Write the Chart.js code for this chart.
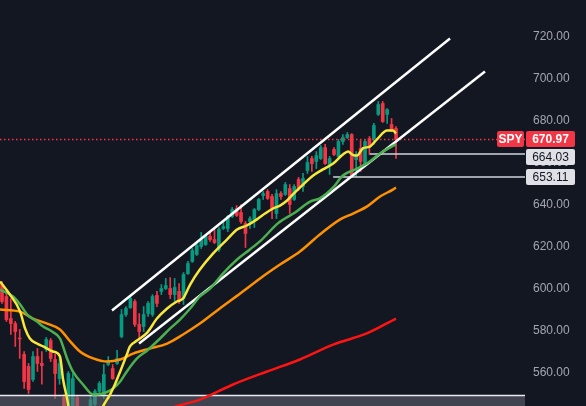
<!DOCTYPE html>
<html>
<head>
<meta charset="utf-8">
<script src="https://cdn.jsdelivr.net/npm/chart.js@4.4.1/dist/chart.umd.min.js"></script>
<style>
  html, body { margin: 0; padding: 0; background: #131722; }
  #wrap { width: 586px; height: 406px; }
</style>
</head>
<body>
<div id="wrap"><canvas id="spyChart" width="586" height="406"></canvas></div>
<script>
// candles, one per bar index
const opens  = [601.9,596.2,585.7,583.3,576.4,568.6,562.9,556.7,567.6,564.3,570.95,575.2,566.2,557.1,548.1,512,532,548,530,512,530,544.8,551.0,549.5,563.8,561.9,564.3,577.1,587.6,590.9,593.8,582.9,581.9,588.1,587.6,596.7,598.6,600.0,600.0,597.1,598.6,595.2,607.1,612.9,616.2,620.0,620.95,624.8,623.3,618.6,628.6,628.6,634.3,638.1,636.2,630.95,631.9,632.9,637.6,644.3,646.2,643.8,635.7,645.2,644.8,647.6,642.4,651.9,648.6,656.2,661.9,660.5,661.9,667.1,659.05,666.2,662.9,670.0,671.9,673.3,661.4,666.7,659.5,671.4,671.4,682.9,688.1,682.9,678.1,676.2];
const highs  = [603.3,598.6,595.2,584.3,580.5,570.0,564.3,570.0,571.4,570.0,576.7,576.2,568.6,567.6,549.5,560.5,559.5,549,538,540,549,551.9,555.7,563.8,567.6,563.8,570.5,590.0,591.4,596.2,594.7,588.1,591.4,593.8,597.1,598.6,601.9,604.8,605.2,604.8,602.4,607.6,612.9,619.05,621.4,626.7,625.7,627.1,628.1,629.05,631.9,634.8,638.6,639.5,640.0,631.9,634.3,638.1,642.9,646.2,647.1,644.8,647.1,646.2,650.5,649.5,649.5,652.9,654.8,662.9,662.9,665.2,668.1,668.6,662.9,667.1,670.95,673.3,674.3,673.8,665.2,670.5,670.95,672.4,678.6,689.05,689.05,685.7,680.95,677.1];
const lows   = [592.9,584.3,578.1,572.4,566.7,552.4,550.0,555.7,560.5,554.4,570.0,565.2,547.6,554.4,505,495,528,520,505,498,526,543.8,550.0,547.6,563.3,556.7,563.8,576.5,586.7,590.5,581.9,575.7,579.5,586.7,586.7,591.4,597.1,599.5,595.2,593.8,592.9,592.4,606.7,612.4,615.7,619.05,620.5,622.4,621.4,617.6,628.1,627.1,633.8,634.3,630.95,619.5,628.6,629.05,637.1,642.4,642.4,633.3,633.3,642.4,644.3,635.7,641.9,646.7,646.2,654.8,655.7,657.1,661.4,659.05,654.3,663.3,662.4,668.6,671.4,652.9,653.3,655.7,659.05,663.8,668.6,682.4,679.05,678.6,674.8,661.9];
const closes = [593.8,585.2,583.3,579.5,576.0,555.7,551.9,567.6,564.3,563.3,575.7,566.7,559.5,564.3,522,559.5,557.1,528,512,535,547,551.0,554.8,559.05,565.7,557.1,566.7,587.6,590.5,595.2,582.9,579.5,587.6,592.9,596.2,592.9,600.0,601.4,597.1,600.5,593.8,606.7,611.9,618.1,620.5,623.3,624.8,623.3,621.9,628.1,629.5,634.3,637.6,634.8,631.9,626.2,633.3,637.6,642.4,645.2,642.9,637.6,645.2,643.8,649.5,640.0,648.6,647.6,652.4,660.0,659.5,663.3,667.1,659.5,661.9,663.8,670.0,671.9,673.3,653.3,663.8,660.5,670.0,667.6,677.6,687.6,679.5,685.2,675.7,670.97];

// moving averages: [bar index, price]
const maYellow = [[-0.45,603.3],[1.8,597.1],[4.1,589.0],[5.2,581.0],[6.3,576.2],[7.9,573.8],[9.3,572.4],[11.5,570.0],[13.1,567.6],[13.8,556.7],[14.7,547.6],[15.8,534.3],[17.6,527.1],[19.9,529.5],[21.5,536.7],[22.8,543.8],[24.4,549.5],[25.5,554.3],[26.7,560.5],[28.2,568.6],[28.9,572.4],[30.5,575.2],[32.8,579.0],[35.0,585.7],[37.3,590.5],[39.5,593.8],[40.9,595.2],[42.5,601.9],[44.7,609.0],[47.7,616.7],[50.8,623.3],[53.1,628.1],[55.3,630.0],[57.6,632.9],[59.4,635.7],[61.2,638.1],[62.8,639.5],[64.4,641.9],[65.7,644.8],[68.0,649.5],[70.3,653.8],[72.5,656.7],[74.8,659.5],[77.0,663.8],[78.2,665.2],[79.1,663.8],[80.2,663.3],[81.5,666.7],[83.1,667.6],[84.7,671.0],[87.0,675.2],[88.3,675.2],[89.0,673.8]];
const maGreen = [[-0.45,599.5],[2.5,596.2],[4.1,592.4],[5.7,587.6],[7.9,584.3],[9.3,581.9],[11.3,579.5],[13.1,576.2],[14.7,566.7],[16.0,560.5],[18.3,554.3],[20.6,549.5],[22.8,550.0],[25.1,552.4],[26.7,555.7],[28.2,560.5],[30.5,566.7],[32.8,570.5],[35.7,576.2],[38.0,581.0],[40.2,585.2],[42.5,590.5],[44.7,596.2],[47.0,600.0],[49.9,607.1],[53.1,613.8],[56.0,618.6],[58.7,623.3],[62.3,631.0],[66.2,636.2],[69.6,641.4],[71.8,642.9],[74.8,648.1],[77.0,653.8],[80.2,657.1],[83.1,660.5],[85.4,664.3],[87.6,667.1],[89.0,668.6]];
const maOrange = [[-0.45,590.0],[4.1,589.0],[7.0,585.7],[10.2,583.3],[13.1,580.5],[15.4,574.8],[17.6,570.0],[20.6,566.7],[23.7,565.2],[26.7,566.2],[29.6,569.0],[33.4,571.4],[37.3,573.8],[40.9,578.1],[44.7,583.3],[49.2,590.5],[53.8,597.6],[58.3,604.8],[62.8,611.4],[67.3,617.6],[71.8,625.7],[76.4,632.9],[79.3,635.7],[82.4,639.0],[85.4,643.8],[88.3,647.1],[89.0,648.1]];
const maRed = [[22.1,527.1],[33.4,539.0],[38.4,543.3],[44.7,547.1],[52.2,554.3],[59.9,560.5],[67.3,566.2],[74.8,573.3],[82.4,578.6],[89.0,585.7]];

// channel lines and levels
const upperChannel = [[24.85,589.5],[101.2,719.05]];
const lowerChannel = [[30.95,573.8],[109.1,703.3]];
const lastPrice = 670.97;
const levels = [664.03, 653.11];
const levelStarts = [83.1, 74.8];
const bandTop = 549.05;
const symbol = 'SPY';
const yTicks = [560, 580, 600, 620, 640, 660, 680, 700, 720];

const xMin = -0.452, xMax = 118.14;
const yMin = 544.05, yMax = 737.38;

const UP = '#089981', DOWN = '#f23645';
const candleColor = ctx => closes[ctx.dataIndex] >= opens[ctx.dataIndex] ? UP : DOWN;
const pts = arr => arr.map(p => ({ x: p[0], y: p[1] }));

const line = (data, color, width, order, extra) => Object.assign({
  type: 'line', data: pts(data), borderColor: color, borderWidth: width,
  pointRadius: 0, fill: false, order: order, cubicInterpolationMode: 'monotone'
}, extra || {});

const tagPlugin = {
  id: 'tags',
  afterDraw(chart) {
    const ctx = chart.ctx, y = chart.scales.y;
    const left = chart.chartArea.right + 1;
    ctx.save();
    ctx.textBaseline = 'middle';
    ctx.textAlign = 'center';
    // last price
    let py = Math.round(y.getPixelForValue(lastPrice));
    ctx.fillStyle = DOWN;
    ctx.beginPath(); ctx.roundRect(left, py - 8, 49, 16, 2); ctx.fill();
    ctx.beginPath(); ctx.roundRect(left - 29, py - 8, 27, 16, 2); ctx.fill();
    ctx.fillStyle = '#ffffff';
    ctx.font = 'bold 12px "Liberation Sans", Arial, sans-serif';
    ctx.fillText(lastPrice.toFixed(2), left + 24.5, py + 0.5);
    ctx.fillText(symbol, left - 15.5, py + 0.5);
    let prevBottom = py + 8;
    ctx.font = '12px "Liberation Sans", Arial, sans-serif';
    levels.forEach(v => {
      let top = Math.max(Math.round(y.getPixelForValue(v)) - 8, prevBottom + 2);
      ctx.fillStyle = '#dfe1e6';
      ctx.beginPath(); ctx.roundRect(left, top, 49, 16, 2); ctx.fill();
      ctx.fillStyle = '#131722';
      ctx.fillText(v.toFixed(2), left + 24.5, top + 8.5);
      prevBottom = top + 16;
    });
    ctx.restore();
  }
};

new Chart(document.getElementById('spyChart'), {
  type: 'bar',
  data: {
    datasets: [
      line(maYellow, '#f7e83a', 2.5, 1),
      line(maGreen, '#4caf50', 2.5, 1),
      line(maOrange, '#ff9100', 2.5, 1),
      line(maRed, '#ff1414', 2.5, 1),
      line(upperChannel, '#ffffff', 2.5, 1, { cubicInterpolationMode: 'default' }),
      line(lowerChannel, '#ffffff', 2.5, 1, { cubicInterpolationMode: 'default' }),
      line([[xMin, lastPrice], [xMax, lastPrice]], DOWN, 1.5, 1, { borderDash: [1.5, 2.5] }),
      line([[levelStarts[0], levels[0]], [xMax, levels[0]]], '#d1d4dc', 1.5, 1),
      line([[levelStarts[1], levels[1]], [xMax, levels[1]]], '#d1d4dc', 1.5, 1),
      line([[xMin, bandTop], [xMax, bandTop]], '#e8eaef', 1.5, 2,
        { fill: 'start', backgroundColor: 'rgba(110,113,125,0.5)' }),
      {
        data: lows.map((l, i) => ({ x: i, y: [l, highs[i]] })),
        backgroundColor: candleColor, barThickness: 1, grouped: false, order: 4
      },
      {
        data: opens.map((o, i) => ({ x: i, y: [Math.min(o, closes[i]), Math.max(o, closes[i])] })),
        backgroundColor: candleColor, barThickness: 3, grouped: false, order: 3
      }
    ]
  },
  options: {
    responsive: false,
    devicePixelRatio: 1,
    animation: false,
    events: [],
    layout: { padding: 0 },
    plugins: { legend: { display: false }, tooltip: { enabled: false } },
    scales: {
      x: { type: 'linear', min: xMin, max: xMax, offset: false, display: false },
      y: {
        position: 'right', min: yMin, max: yMax,
        grid: { display: false, drawTicks: false },
        border: { display: false },
        ticks: {
          padding: 8, color: '#a3a6af',
          font: { family: '"Liberation Sans", Arial, sans-serif', size: 12 },
          callback: v => v.toFixed(2)
        },
        afterBuildTicks: s => { s.ticks = yTicks.map(v => ({ value: v })); },
        afterFit: s => { s.width = 61; s.paddingTop = 0; s.paddingBottom = 0; }
      }
    }
  },
  plugins: [tagPlugin]
});
</script>
</body>
</html>
